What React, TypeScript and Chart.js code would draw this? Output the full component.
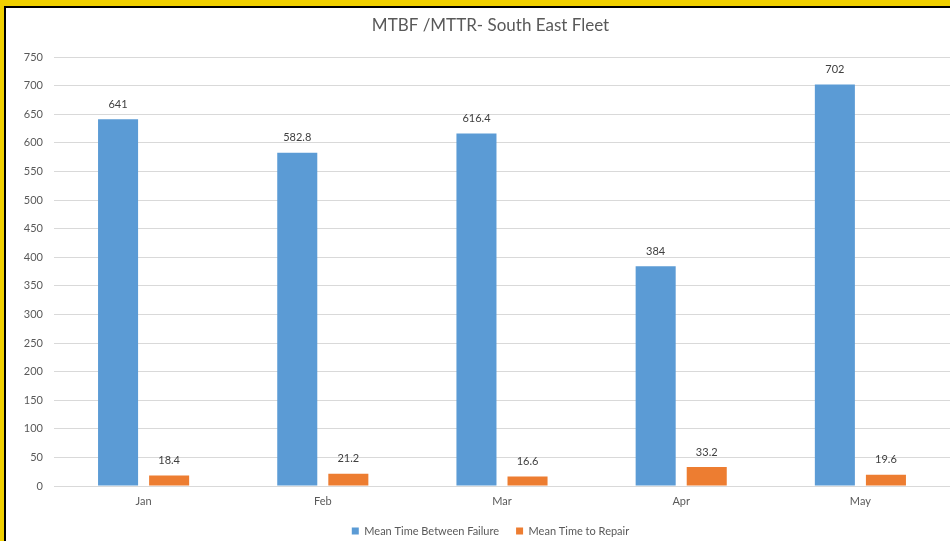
import React, { useEffect, useRef } from "react";
import { Chart, registerables } from "chart.js";

Chart.register(...registerables);

const categories = ["Jan", "Feb", "Mar", "Apr", "May"];
const mtbf = [641, 582.8, 616.4, 384, 702];
const mttr = [18.4, 21.2, 16.6, 33.2, 19.6];
const seriesNames = ["Mean Time Between Failure", "Mean Time to Repair"];
const titleText = "MTBF /MTTR- South East Fleet";

const FONT = "Lato, 'Open Sans', sans-serif";

const valueLabels = {
  id: "valueLabels",
  afterDatasetsDraw(chart: any) {
    const ctx = chart.ctx;
    ctx.save();
    ctx.font = `11px ${FONT}`;
    ctx.fillStyle = "#404040";
    ctx.textAlign = "center";
    ctx.textBaseline = "middle";
    chart.data.datasets.forEach((ds: any, di: number) => {
      const meta = chart.getDatasetMeta(di);
      meta.data.forEach((bar: any, i: number) => {
        ctx.fillText(String(ds.data[i]), bar.x, bar.y - 15);
      });
    });
    ctx.restore();
  },
};

export default function App() {
  const ref = useRef<HTMLCanvasElement>(null);
  useEffect(() => {
    if (!ref.current) return;
    const chart = new Chart(ref.current, {
      type: "bar",
      data: {
        labels: categories,
        datasets: [
          {
            label: seriesNames[0],
            data: mtbf,
            backgroundColor: "#5B9BD5",
            categoryPercentage: 0.57,
            barPercentage: 0.784,
          },
          {
            label: seriesNames[1],
            data: mttr,
            backgroundColor: "#ED7D31",
            categoryPercentage: 0.57,
            barPercentage: 0.784,
          },
        ],
      },
      options: {
        animation: false,
        responsive: false,
        maintainAspectRatio: false,
        layout: { padding: { left: 0, right: 0, top: 0, bottom: -5.5 } },
        plugins: {
          title: {
            display: true,
            text: titleText,
            color: "#595959",
            font: { family: FONT, size: 17, weight: "normal" },
            padding: { top: 7.8, bottom: 20.8 },
          },
          legend: {
            position: "bottom",
            labels: {
              boxWidth: 7,
              boxHeight: 7,
              padding: 17,
              color: "#595959",
              font: { family: FONT, size: 11 },
            },
          },
          tooltip: { enabled: false },
        },
        scales: {
          x: {
            grid: { display: false, drawTicks: false },
            border: { color: "#D9D9D9" },
            ticks: { color: "#595959", font: { family: FONT, size: 11 }, padding: 9 },
            afterFit: (s: any) => {
              s.height = 22.5;
            },
          },
          y: {
            min: 0,
            max: 750,
            ticks: {
              stepSize: 50,
              color: "#595959",
              font: { family: FONT, size: 11 },
              padding: 11,
            },
            grid: { color: "#D9D9D9", drawTicks: false },
            border: { display: false },
            afterFit: (s: any) => {
              s.width = 48;
            },
          },
          yRight: {
            position: "right",
            min: 0,
            max: 1,
            grid: { display: false, drawTicks: false },
            border: { display: false },
            ticks: { display: false },
            afterFit: (s: any) => {
              s.width = 25;
            },
          },
        },
      },
      plugins: [valueLabels],
    });
    return () => chart.destroy();
  }, []);

  return (
    <div
      style={{
        position: "fixed",
        left: 0,
        top: 0,
        width: 950,
        height: 541,
        overflow: "hidden",
        background: "#F0D000",
      }}
    >
      <div
        style={{
          position: "absolute",
          left: 4,
          top: 6,
          width: 980,
          height: 541,
          background: "#000",
        }}
      />
      <div
        style={{
          position: "absolute",
          left: 6,
          top: 8,
          width: 969,
          height: 533,
          background: "#fff",
        }}
      >
        <canvas ref={ref} width={969} height={533} style={{ display: "block" }} />
      </div>
    </div>
  );
}
